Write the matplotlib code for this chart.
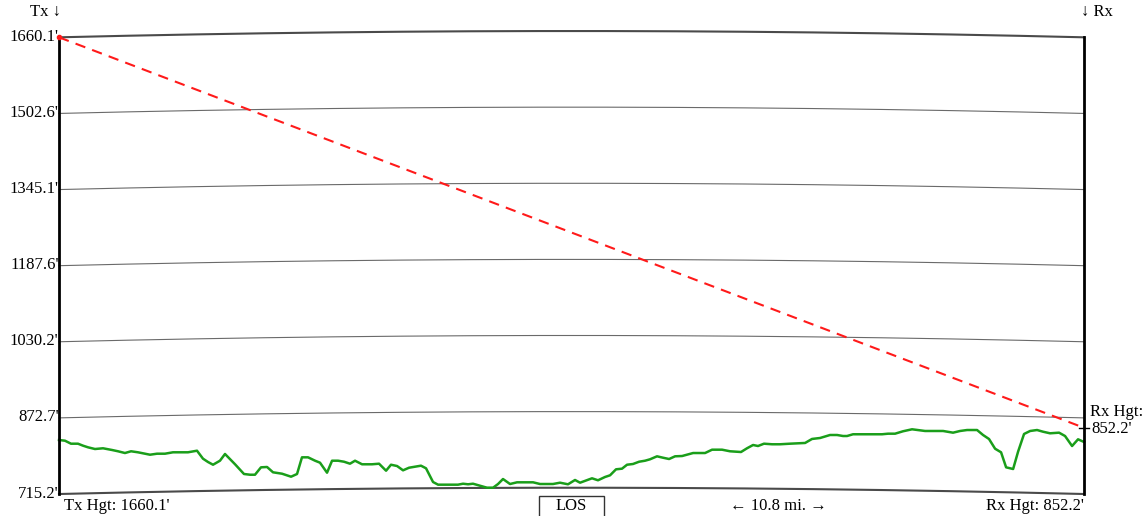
import numpy as np
import matplotlib
matplotlib.use('Agg')
import matplotlib.pyplot as plt
from matplotlib.patches import Rectangle

# path profile, distance in miles, apparent height in feet
path_len = 10.8
tx_hgt = 1660.1
rx_hgt = 852.2
levels = [715.2, 872.7, 1030.2, 1187.6, 1345.1, 1502.6, 1660.1]
level_labels = ["715.2'", "872.7'", "1030.2'", "1187.6'", "1345.1'", "1502.6'", "1660.1'"]

dist = [0.000, 0.063, 0.126, 0.200, 0.253, 0.306, 0.379, 0.464, 0.558, 0.622,
        0.695, 0.759, 0.832, 0.959, 1.033, 1.117, 1.201, 1.359, 1.454, 1.517,
        1.570, 1.623, 1.696, 1.749, 1.855, 1.949, 2.013, 2.065, 2.128, 2.192,
        2.255, 2.350, 2.445, 2.508, 2.560, 2.624, 2.698, 2.750, 2.824, 2.877,
        2.940, 3.003, 3.066, 3.119, 3.193, 3.298, 3.372, 3.446, 3.498, 3.562,
        3.625, 3.688, 3.751, 3.814, 3.867, 3.941, 3.994, 4.120, 4.204, 4.257,
        4.310, 4.362, 4.436, 4.510, 4.573, 4.626, 4.678, 4.752, 4.826, 4.995,
        5.068, 5.205, 5.279, 5.363, 5.437, 5.490, 5.616, 5.679, 5.753, 5.806,
        5.869, 5.932, 5.985, 6.048, 6.112, 6.175, 6.227, 6.301, 6.364, 6.428,
        6.491, 6.565, 6.681, 6.807, 6.881, 6.986, 7.070, 7.186, 7.249, 7.313,
        7.365, 7.428, 7.513, 7.597, 7.702, 7.861, 7.934, 8.019, 8.124, 8.198,
        8.261, 8.303, 8.366, 8.672, 8.735, 8.809, 8.893, 8.988, 9.125, 9.315,
        9.420, 9.494, 9.568, 9.673, 9.736, 9.799, 9.863, 9.926, 9.979, 10.053,
        10.105, 10.168, 10.232, 10.305, 10.368, 10.442, 10.537, 10.600, 10.674, 10.737,
        10.800]
terrain = [826.9, 825.5, 819.3, 819.3, 815.2, 811.8, 808.3, 809.8, 806.3, 803.6,
           800.0, 803.6, 801.5, 796.5, 798.6, 798.6, 801.5, 801.5, 804.8, 788.3,
           781.4, 775.8, 784.1, 798.0, 776.7, 756.6, 755.1, 755.1, 770.4, 771.1,
           760.1, 757.2, 751.0, 756.6, 791.1, 791.1, 784.1, 780.0, 759.3, 784.1,
           784.1, 782.0, 777.9, 784.1, 776.7, 776.7, 777.9, 763.4, 775.8, 773.1,
           764.2, 769.6, 771.7, 773.8, 768.4, 740.0, 734.5, 734.5, 734.5, 736.5,
           735.3, 736.5, 732.4, 728.2, 728.2, 735.9, 746.2, 735.9, 739.4, 739.4,
           735.9, 735.9, 738.6, 735.3, 744.2, 738.6, 747.7, 743.6, 750.4, 753.9,
           766.3, 767.6, 775.8, 777.3, 782.0, 784.1, 787.0, 793.2, 790.3, 787.6,
           793.2, 793.8, 800.0, 800.0, 806.9, 806.9, 803.6, 802.1, 809.8, 816.6,
           814.5, 819.3, 818.1, 818.1, 819.3, 820.8, 829.1, 831.1, 837.3, 837.3,
           835.2, 835.2, 838.8, 838.8, 840.0, 840.0, 845.0, 849.1, 845.6, 845.6,
           842.1, 845.6, 847.6, 847.6, 837.3, 829.0, 808.9, 801.5, 770.4, 766.9,
           802.7, 839.4, 845.6, 847.6, 844.1, 840.8, 842.1, 835.2, 814.5, 828.4,
           822.8]

bulge = 13.0  # earth bulge at midpoint, ft
font = ['Liberation Serif', 'DejaVu Serif']
fs = 12

fig = plt.figure(figsize=(11.46, 5.16), dpi=100)
ax = fig.add_axes([0, 0, 1, 1])
ax.set_xlim(-0.6217, 11.453)
ax.set_ylim(669.7, 1737.3)
ax.axis('off')

# curved height lines
t = np.linspace(0, path_len, 300)
arc = bulge * 4 * (t / path_len) * (1 - t / path_len)
for i, lv in enumerate(levels):
    if i == 0 or i == len(levels) - 1:
        ax.plot(t, lv + arc, color='#4a4a4a', lw=1.5, zorder=2)
    else:
        ax.plot(t, lv + arc, color='#6a6a6a', lw=0.8, zorder=2)
    ax.text(-0.005, lv + 1, level_labels[i], ha='right', va='center',
            fontsize=fs, family=font)

# side posts
ax.plot([0, 0], [levels[0], levels[-1]], color='black', lw=2, zorder=4)
ax.plot([path_len, path_len], [levels[0], levels[-1]], color='black', lw=2, zorder=4)

# terrain
ax.plot(dist, terrain, color='#1a9e1a', lw=1.8, zorder=3)

# line of sight
ax.plot([0, path_len], [tx_hgt, rx_hgt], color='#ff1a1a', lw=1.5,
        ls=(0, (5, 3.5)), zorder=5)
ax.plot([0], [tx_hgt], 'o', color='#ff1a1a', ms=3, zorder=6)
ax.plot([path_len - 0.05, path_len + 0.05], [rx_hgt, rx_hgt], color='black', lw=1, zorder=6)

# labels
ax.text(-0.14, 1712, 'Tx \u2193', ha='center', va='center', fontsize=fs, family=font)
ax.text(10.94, 1712, '\u2193 Rx', ha='center', va='center', fontsize=fs, family=font)
ax.text(path_len + 0.06, 884, 'Rx Hgt:', ha='left', va='center', fontsize=fs, family=font)
ax.text(path_len + 0.08, rx_hgt - 2, "852.2'", ha='left', va='center', fontsize=fs, family=font)

ax.text(0.053, 690.4, "Tx Hgt: 1660.1'", ha='left', va='center', fontsize=fs, family=font)
ax.text(path_len, 690.4, "Rx Hgt: 852.2'", ha='right', va='center', fontsize=fs, family=font)
ax.text(7.576, 690.4, '\u2190 10.8 mi. \u2192', ha='center', va='center', fontsize=fs, family=font)

ax.add_patch(Rectangle((5.058, 660), 0.685, 711.7 - 660, fill=False,
                       edgecolor='#333333', lw=1.0, zorder=4))
ax.text(5.40, 690.4, 'LOS', ha='center', va='center', fontsize=fs, family=font)

fig.savefig('out.png', dpi=100)
